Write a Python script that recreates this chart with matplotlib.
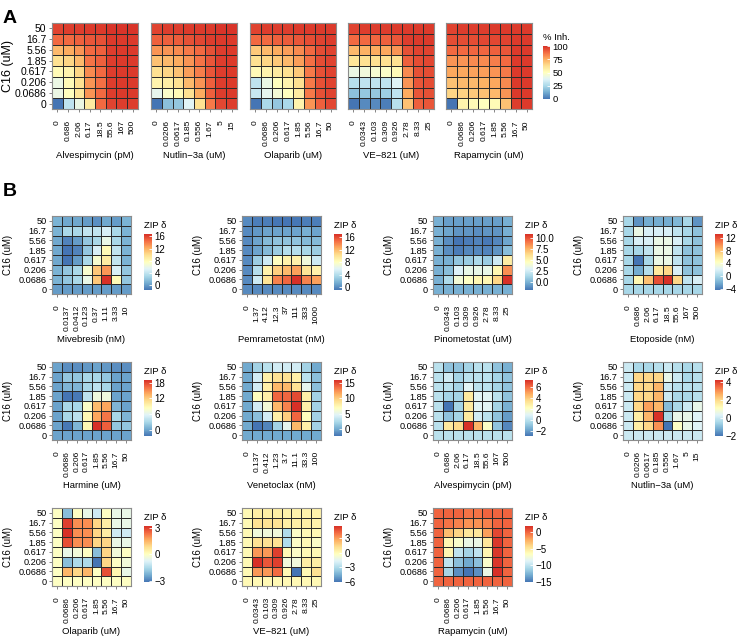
import numpy as np
import matplotlib
matplotlib.use("Agg")
import matplotlib.pyplot as plt
from matplotlib.colors import LinearSegmentedColormap

plt.rcParams['font.family'] = ['Liberation Sans', 'DejaVu Sans']

# C16 concentrations, rows listed top (50) to bottom (0)
c16 = ["0", "0.0686", "0.206", "0.617", "1.85", "5.56", "16.7", "50"]

alvespimycin_x = ["0", "0.686", "2.06", "6.17", "18.5", "55.6", "167", "500"]
nutlin_x = ["0", "0.0206", "0.0617", "0.185", "0.556", "1.67", "5", "15"]
olaparib_x = ["0", "0.0686", "0.206", "0.617", "1.85", "5.56", "16.7", "50"]
ve821_x = ["0", "0.0343", "0.103", "0.309", "0.926", "2.78", "8.33", "25"]
rapamycin_x = ["0", "0.0686", "0.206", "0.617", "1.85", "5.56", "16.7", "50"]
mivebresib_x = ["0", "0.0137", "0.0412", "0.123", "0.37", "1.11", "3.33", "10"]
pemrametostat_x = ["0", "1.37", "4.12", "12.3", "37", "111", "333", "1000"]
pinometostat_x = ["0", "0.0343", "0.103", "0.309", "0.926", "2.78", "8.33", "25"]
etoposide_x = ["0", "0.686", "2.06", "6.17", "18.5", "55.6", "167", "500"]
harmine_x = ["0", "0.0686", "0.206", "0.617", "1.85", "5.56", "16.7", "50"]
venetoclax_x = ["0", "0.137", "0.412", "1.23", "3.7", "11.1", "33.3", "100"]

# panel A: % inhibition
inh_alvespimycin = [
    [96, 97, 97, 98, 98, 99, 99, 99],
    [88, 88, 90, 92, 93, 98, 98, 98],
    [72, 75, 80, 88, 90, 97, 98, 98],
    [62, 65, 72, 86, 90, 97, 98, 98],
    [52, 55, 65, 82, 88, 97, 98, 98],
    [42, 52, 62, 80, 87, 97, 98, 98],
    [42, 50, 60, 80, 88, 97, 98, 98],
    [0, 30, 42, 58, 88, 96, 97, 97]]
inh_nutlin = [
    [96, 97, 97, 98, 98, 98, 99, 99],
    [90, 90, 91, 93, 95, 97, 98, 98],
    [80, 80, 82, 85, 88, 93, 97, 98],
    [70, 72, 75, 80, 86, 92, 97, 98],
    [62, 65, 70, 78, 84, 92, 97, 98],
    [55, 57, 62, 72, 80, 90, 97, 98],
    [40, 48, 52, 62, 75, 90, 97, 98],
    [0, 18, 20, 38, 62, 85, 95, 97]]
inh_olaparib = [
    [96, 97, 97, 97, 98, 98, 98, 98],
    [88, 88, 90, 91, 92, 94, 96, 97],
    [68, 72, 75, 78, 82, 88, 94, 96],
    [62, 65, 68, 72, 78, 87, 94, 96],
    [52, 55, 58, 62, 68, 85, 93, 96],
    [30, 42, 50, 55, 62, 85, 93, 96],
    [32, 40, 45, 50, 58, 85, 93, 96],
    [0, 25, 20, 25, 55, 80, 90, 95]]
inh_ve821 = [
    [96, 97, 97, 97, 98, 98, 98, 98],
    [88, 88, 89, 90, 92, 97, 98, 98],
    [72, 74, 75, 76, 80, 93, 96, 96],
    [60, 62, 62, 62, 62, 90, 94, 95],
    [42, 44, 46, 48, 52, 82, 93, 94],
    [28, 30, 30, 30, 38, 80, 92, 94],
    [18, 20, 20, 22, 30, 75, 92, 93],
    [0, 5, 5, 2, 28, 70, 90, 92]]
inh_rapamycin = [
    [96, 97, 97, 97, 98, 98, 98, 98],
    [94, 94, 94, 95, 95, 96, 98, 98],
    [88, 88, 89, 89, 90, 92, 98, 98],
    [80, 80, 82, 82, 84, 88, 98, 98],
    [76, 76, 77, 78, 80, 85, 98, 98],
    [70, 72, 72, 74, 76, 82, 98, 98],
    [65, 66, 68, 70, 72, 80, 98, 98],
    [0, 55, 52, 50, 52, 70, 97, 98]]

# panel B: ZIP synergy
zip_mivebresib = [
    [1, 0.5, 0.5, 0, -0.5, 0.5, 0, 1],
    [1, 3, 3, 4, 4, 5, 3, 1],
    [0.5, -1, 0, 2, 3, 6, 3, 1],
    [0.5, -1.6, -1, 2, 5, 8, 4, 1],
    [0.5, -1.6, 0, 3, 7, 9, 4, 1],
    [1, 2, 3, 7, 11, 13, 5, 2],
    [1, 2, 3, 6, 11, 16.8, 8, 2],
    [0, 0, 0, 0, 0, 0, 0, 0]]
zip_pemrametostat = [
    [0, -0.5, -0.5, -0.8, -0.9, -0.8, -0.5, -0.5],
    [0, 0.5, 1, 1, 1, 1, 1.5, 1],
    [0, 1, 2, 2.5, 2.5, 2.5, 2, 2],
    [0, 1, 2, 3, 4, 4, 3.5, 3],
    [0, 3, 5, 8, 9, 9, 7, 5],
    [0, 4, 9, 11, 12, 13, 10, 9],
    [0, 5, 10, 14, 15, 17, 14, 13],
    [0, 0, 0, 0, 0, 0, 0, 0]]
zip_pinometostat = [
    [0, -0.5, -0.5, -0.5, -0.5, -0.5, -0.5, 0],
    [0, -0.3, -0.8, -0.8, -1, -0.8, -0.8, 0],
    [0, -1, -1.7, -1.5, -1.3, -1.6, -1.2, -0.3],
    [0, -1, -1.5, -1.2, -1.2, -1.3, -0.8, 0.5],
    [0, 0, 0.8, 1, 1.5, 1, 2.5, 5.5],
    [0, 0.5, 3, 3.5, 3.5, 3.5, 5, 8.5],
    [0, 1.5, 4, 4.5, 5, 5, 6.5, 10.9],
    [0, 0, 0, 0, 0, 0, 0, 0]]
zip_etoposide = [
    [0, -3, -2, -2, -2, -1.5, 0, -3],
    [0, 3, 2, 2, 2, 1, 0, -1],
    [0, 2, 2, 3, 3, 2, 0, -1],
    [0, 0, 1, 3, 3, 1, -1, -1],
    [0, -4.2, 0, 3, 3, 1, -1, -1],
    [0, -2, 0.5, 6, 7, 2, -1, -1],
    [0, 5, 8, 12, 13.1, 7, 1, 2],
    [0, 0, 0, 0, 0, 0, 0, 0]]
zip_harmine = [
    [0, -1, -1, -0.5, 0, -0.5, -1, -1],
    [0, 2, 2, 3, 3, 2, 0, 0],
    [0, 1, 1, 3, 4, 3, 0, 0],
    [0, -2.2, -2, 4, 7, 7, 0, 0],
    [0, 3, 3, 8, 13, 14, 1, 0],
    [0, 3, 4, 9, 14, 16, 3, 1],
    [0, -2, 1, 9, 19, 17, 2, 2],
    [0, 0, 0, 0, 0, 0, 0, 0]]
zip_venetoclax = [
    [0, 2, 3, 4, 4, 4, 2, 0],
    [0, 4, 8, 9, 9, 8, 3, 1],
    [0, 4, 8, 11, 11, 9, 5, 1],
    [0, 7, 8, 14, 14, 15, 8, 2],
    [0, 4, 6, 11, 13, 16, 8, 2],
    [0, 1, 4, 8, 10, 14, 7, 2],
    [0, -2.2, -1.5, 2, 5, 11, 8, 2],
    [0, 0, 0, 0, 0, 0, 0, 0]]
zip_alvespimycin = [
    [0, -1, -1, -0.5, 0, 0, -1, -1.5],
    [0, 0.5, -0.5, 0, 0, 0, -0.5, -1],
    [0, 0, -0.5, 1, 0, 0, -0.5, -1],
    [0, -0.5, -0.5, 3, 1, 1, 0, -1],
    [0, -2.9, -0.5, 3, 1, 1, -0.5, -1.5],
    [0, -1, -0.5, 3, 0.5, 0, -1, -2],
    [0, 3, 3.5, 7.2, 4.5, 2, -1, -2.5],
    [0, 0, 0, 0, 0, 0, 0, 0]]
zip_nutlin = [
    [0, -0.5, -0.5, -0.3, 0, -0.3, -0.5, -0.3],
    [0, 2, 2, 2, 0.5, 0, -0.5, -0.3],
    [0, 2, 2, 2.5, 0, -0.3, -0.3, -0.3],
    [0, 2, 2, 2.5, 0, -0.5, -0.5, -0.3],
    [0, 2, 2.8, 2.5, -1, -0.5, 0, 0.5],
    [0, 1.5, 2.5, 4.2, -0.5, 0.5, 0.5, 0.3],
    [0, 1.5, 2, 3, -2.05, 1, 0.5, 0.3],
    [0, 0, 0, 0, 0, 0, 0, 0]]
zip_olaparib = [
    [0, -2, 0, -0.5, -1, 0, -0.5, -0.5],
    [0, 3, 2, 2, 1, 0.5, -0.5, -0.5],
    [0, 3.2, 2, 2, 1, 0.5, -1, -1],
    [0, 2.8, 2, 2, 1, 1, -0.5, -0.5],
    [0, -0.5, -0.3, 0, -2, 1, -0.3, 0],
    [0, -2, -1.5, -1.5, -3.1, 1, 0, -0.3],
    [0, 1.5, 1, 1.5, 0, 2.8, 0.3, -0.5],
    [0, 0, 0, 0, 0, 0, 0, 0]]
zip_ve821 = [
    [0, 0.5, 0.5, 0.5, 0.3, 0.3, 0.3, 0.3],
    [0, 1, 1, 1, 0.5, 0.5, 0.5, 0.3],
    [0, -1, -1, -1, -3, -0.5, 0, 0],
    [0, 1, 1, 1, -3, -0.5, 0, -0.5],
    [0, 3, 3, 5, 0, -0.5, 0, 0],
    [0, 5.4, 4.5, 5, -1, -1, 0.5, 0.5],
    [0, 3, 3, 4, 0, -6, 0, 1],
    [0, 0, 0, 0, 0, 0, 0, 0]]
zip_rapamycin = [
    [0, 0, 0, -0.5, -0.5, 0, 0, 0],
    [0, -0.5, -1, -1.5, -1.5, -1, 0, 0],
    [0, -3, -4, -5, -5, -2, 1, 0],
    [0, -6, -7, -8, -8, -5, 1.5, 0],
    [0, -6, -10, -11, -10, -6, 1.5, 0],
    [0, -10, -12, -13, -12, -7, 1.5, 0],
    [0, -11, -14, -15, -14, -8, 1.8, 0],
    [0, 0, 0, 0, 0, 0, 0, 0]]

cmap = LinearSegmentedColormap.from_list("synergy", [
    '#4575b4', '#74add1', '#abd9e9', '#e0f3f8', '#ffffbf',
    '#fee090', '#fdae61', '#f46d43', '#d73027'])

W, H = 737, 636
fig = plt.figure(figsize=(W / 100, H / 100), dpi=100)


def box(x, y, w, h):
    return [x / W, 1 - (y + h) / H, w / W, h / H]


def heat(x, y, w, h, data, xt, xlab, vmin=None, vmax=None, ylab=True,
         ytick_fs=6.6, ylab_fs=6.9):
    z = np.flipud(np.array(data, dtype=float))
    if vmin is None:
        vmin, vmax = z.min(), z.max()
    ax = fig.add_axes(box(x, y, w, h))
    m = ax.pcolormesh(z, cmap=cmap, vmin=vmin, vmax=vmax,
                      edgecolors='#2a2a2a', linewidth=0.5)
    ax.set_xlim(0, 8)
    ax.set_ylim(0, 8)
    ax.set_xticks(np.arange(8) + 0.5)
    ax.set_xticklabels(xt, rotation=90, fontsize=6.1)
    ax.set_yticks(np.arange(8) + 0.5)
    ax.tick_params(length=2, width=0.5, color='#555555', pad=2)
    ax.tick_params(axis='x', pad=6)
    if ylab:
        ax.set_yticklabels(c16, fontsize=ytick_fs)
        ax.set_ylabel("C16 (uM)", fontsize=ylab_fs, va='center')
        ax.yaxis.set_label_coords(-44.0 / w, 0.5)
    else:
        ax.set_yticklabels([])
        ax.tick_params(axis='y', length=0)
    ax.set_xlabel(xlab, fontsize=6.8, va='center')
    ax.xaxis.set_label_coords(0.5, -46.0 / h)
    for s in ax.spines.values():
        s.set_color('#8c8c8c')
        s.set_linewidth(0.8)
    return m


def cbar(m, x, y, w, h, title, ticks, fmt=None, fs=7):
    cax = fig.add_axes(box(x, y, w, h))
    cb = fig.colorbar(m, cax=cax)
    cb.outline.set_visible(False)
    cb.set_ticks(ticks)
    if fmt:
        cb.set_ticklabels([fmt % t for t in ticks])
    cax.tick_params(labelsize=fs, length=2, width=0.6, color='white',
                    direction='in', pad=2)
    cax.set_title(title, fontsize=6.8, loc='left', pad=4)


# panel A
fig.text(0.004, 0.985, "A", fontsize=14, fontweight='bold', va='top')
a_x = [52, 151, 250, 348, 446]
a_data = [inh_alvespimycin, inh_nutlin, inh_olaparib, inh_ve821, inh_rapamycin]
a_xt = [alvespimycin_x, nutlin_x, olaparib_x, ve821_x, rapamycin_x]
a_lab = ["Alvespimycin (pM)", "Nutlin\u22123a (uM)", "Olaparib (uM)",
         "VE\u2212821 (uM)", "Rapamycin (uM)"]
for i in range(5):
    m = heat(a_x[i], 23, 86, 86, a_data[i], a_xt[i], a_lab[i],
             vmin=0, vmax=100, ylab=(i == 0), ytick_fs=7.5, ylab_fs=9)
cbar(m, 543, 46, 7, 53, "% Inh.", [0, 25, 50, 75, 100], fs=6.8)

# panel B
fig.text(0.004, 0.713, "B", fontsize=14, fontweight='bold', va='top')
b_cols = [52, 242, 433, 623]
b_rows = [216, 362, 508]
b_data = [zip_mivebresib, zip_pemrametostat, zip_pinometostat, zip_etoposide,
          zip_harmine, zip_venetoclax, zip_alvespimycin, zip_nutlin,
          zip_olaparib, zip_ve821, zip_rapamycin]
b_xt = [mivebresib_x, pemrametostat_x, pinometostat_x, etoposide_x,
        harmine_x, venetoclax_x, alvespimycin_x, nutlin_x,
        olaparib_x, ve821_x, rapamycin_x]
b_lab = ["Mivebresib (nM)", "Pemrametostat (nM)", "Pinometostat (uM)",
         "Etoposide (nM)", "Harmine (uM)", "Venetoclax (nM)",
         "Alvespimycin (pM)", "Nutlin\u22123a (uM)", "Olaparib (uM)",
         "VE\u2212821 (uM)", "Rapamycin (uM)"]
b_ticks = [[0, 4, 8, 12, 16], [0, 4, 8, 12, 16], [0, 2.5, 5, 7.5, 10],
           [-4, 0, 4, 8, 12], [0, 6, 12, 18], [0, 5, 10, 15],
           [-2, 0, 2, 4, 6], [-2, 0, 2, 4], [-3, 0, 3], [-6, -3, 0, 3],
           [-15, -10, -5, 0]]
for i in range(11):
    x = b_cols[i % 4]
    y = b_rows[i // 4]
    m = heat(x, y, 79, 78, b_data[i], b_xt[i], b_lab[i])
    fmt = "%.1f" if i == 2 else None
    cbar(m, x + 92, y + 18, 8, 56, "ZIP \u03b4", b_ticks[i], fmt)

fig.savefig("out.png", dpi=100)
